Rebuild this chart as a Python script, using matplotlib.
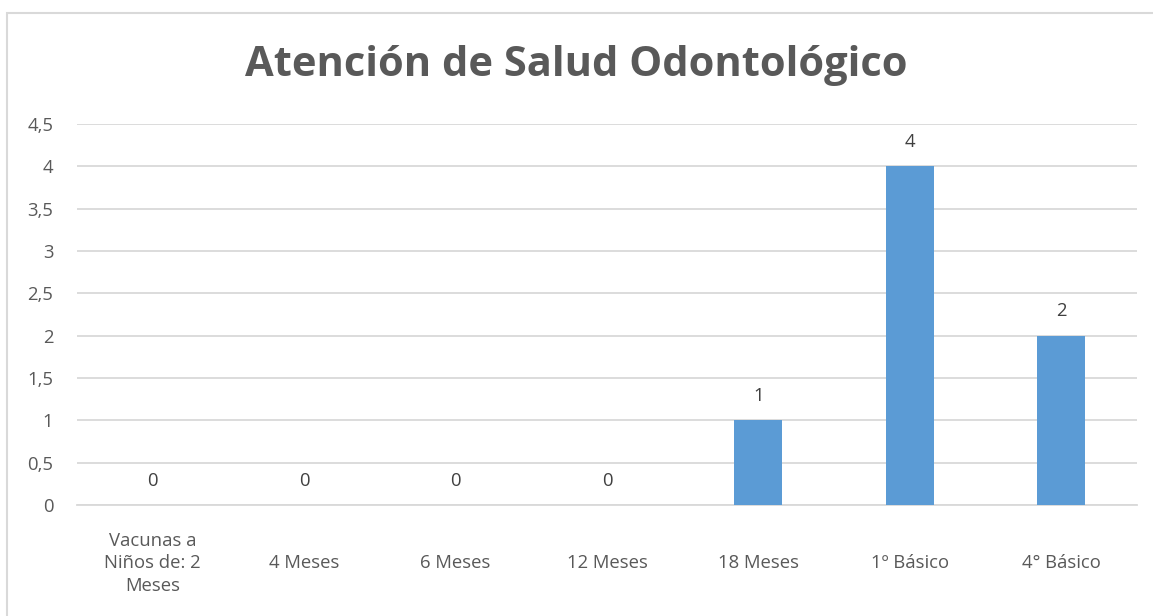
import matplotlib.pyplot as plt
from matplotlib.patches import Rectangle
import numpy as np

# DATA
categories = ["Vacunas a\nNiños de: 2\nMeses", "4 Meses", "6 Meses", "12 Meses",
              "18 Meses", "1º Básico", "4° Básico"]
values = [0, 0, 0, 0, 1, 4, 2]
y_ticks = [0, 0.5, 1, 1.5, 2, 2.5, 3, 3.5, 4, 4.5]
y_tick_labels = ["0", "0,5", "1", "1,5", "2", "2,5", "3", "3,5", "4", "4,5"]

# STYLE
BAR_COLOR = "#5B9BD5"
TEXT_COLOR = "#595959"
GRID_COLOR = "#D9D9D9"
FONT = ["Open Sans", "DejaVu Sans"]

fig = plt.figure(figsize=(11.53, 6.16), dpi=100)
fig.set_facecolor("white")
ax = fig.add_axes([0.0668, 0.1802, 0.9193, 0.6185])

x = np.arange(len(categories))
ax.bar(x, values, width=0.317, color=BAR_COLOR, zorder=3)

for xi, v in zip(x, values):
    ax.annotate(str(v), (xi, v), xytext=(0, 17.6), textcoords="offset points",
                ha="center", va="center", fontsize=13.3, color="#404040", family=FONT)

ax.set_xlim(-0.5, len(categories) - 0.5)
ax.set_ylim(0, 4.5)
ax.set_yticks(y_ticks)
ax.set_yticklabels(y_tick_labels, family=FONT, fontsize=13.3, color=TEXT_COLOR)
ax.set_xticks(x)
ax.set_xticklabels(categories, family=FONT, fontsize=13.3, color=TEXT_COLOR,
                   va="center", linespacing=1.3)
ax.tick_params(axis="x", length=0, pad=42)
ax.tick_params(axis="y", length=0, pad=17)

ax.grid(axis="y", color=GRID_COLOR, linewidth=1.3, zorder=0)
for side in ["top", "right", "left"]:
    ax.spines[side].set_visible(False)
ax.spines["bottom"].set_color(GRID_COLOR)
ax.spines["bottom"].set_linewidth(1.3)

fig.text(0.5, 0.894, "Atención de Salud Odontológico", ha="center", va="center",
         fontsize=30, fontweight="bold", color=TEXT_COLOR, family=FONT)

# chart border
border = Rectangle((6.5 / 1153, -0.05), 1.1, (616 - 12.5) / 616 + 0.05,
                   transform=fig.transFigure, fill=False, edgecolor=GRID_COLOR,
                   linewidth=1.5, clip_on=False)
fig.patches.append(border)

fig.savefig("out.png", dpi=100, facecolor="white")
